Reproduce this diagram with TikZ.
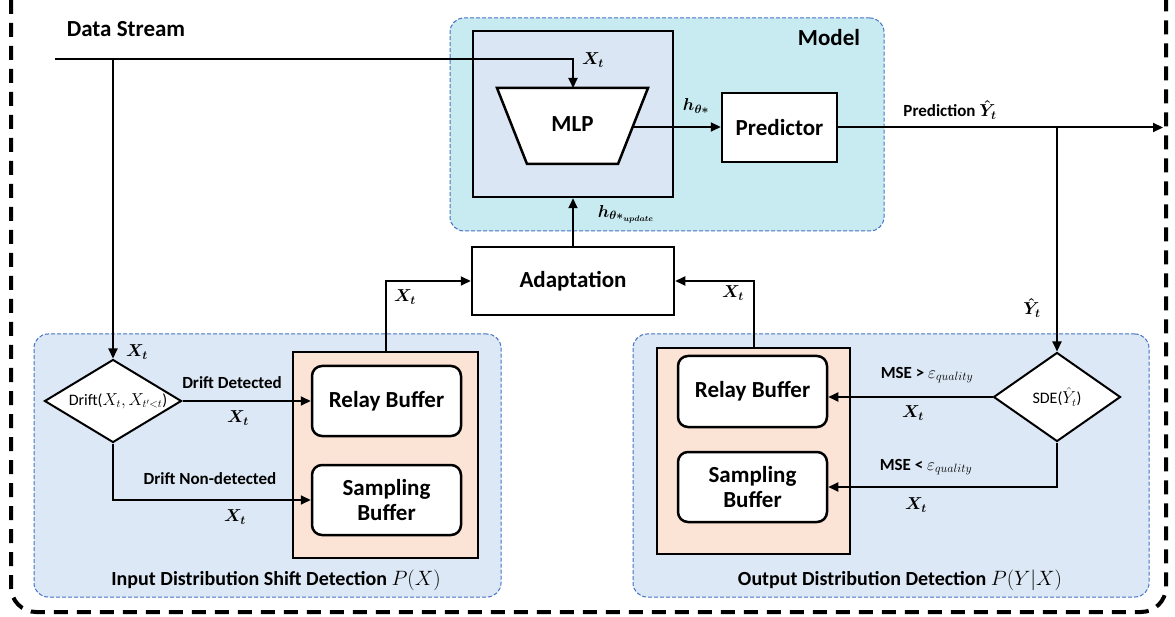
\documentclass[tikz,border=0pt]{standalone}
\usepackage{amsmath,bm}
\usepackage{fontspec}
\setmainfont{Carlito}
\usetikzlibrary{arrows.meta,calc,shapes.geometric}
\definecolor{modelcyan}{RGB}{200,235,241}
\definecolor{innerblue}{RGB}{218,230,243}
\definecolor{regionblue}{RGB}{220,232,245}
\definecolor{bufferorange}{RGB}{251,227,214}
\definecolor{dashblue}{RGB}{68,114,196}
\newcommand{\myBig}{\fontsize{23}{27}\selectfont\bfseries}
\newcommand{\myMid}{\fontsize{20}{24}\selectfont\bfseries}
\newcommand{\myMath}{\fontsize{18}{22}\selectfont\bfseries\boldmath}
\newcommand{\mySmall}{\fontsize{17}{20}\selectfont\bfseries}
\newcommand{\myDia}{\fontsize{16}{19}\selectfont}
\begin{document}
\begin{tikzpicture}[x=1pt,y=-1pt,
  wire/.style={line width=2pt},
  conn/.style={line width=2pt,-{Triangle[length=10pt,width=9pt]}},
  box/.style={draw,line width=2.5pt,fill=white,inner sep=0pt,align=center,font=\myBig},
  rbox/.style={box,rounded corners=10pt},
  region/.style={draw=dashblue,line width=1pt,dash pattern=on 4pt off 2pt,rounded corners=14pt,inner sep=0pt},
  holder/.style={draw,line width=2.5pt,inner sep=0pt},
  dia/.style={diamond,draw,line width=2pt,fill=white,inner sep=0pt},
  lab/.style={inner sep=1pt,font=\mySmall},
  mlab/.style={inner sep=1pt,font=\myMath},
  rlab/.style={inner sep=1pt,font=\myMid}
]
\useasboundingbox (0,0) rectangle (1175,617);
% outer dashed frame
\draw[line width=4pt,dash pattern=on 14pt off 9pt,rounded corners=25pt] (11,-25) rectangle (1166,612);

% model area
\node[region,fill=modelcyan,minimum width=434pt,minimum height=213pt] (model) at (667,124.5) {};
\node[font=\myBig] (modellab) at (829,38) {Model};
\node[holder,fill=innerblue,minimum width=200pt,minimum height=166pt] (inner) at (573,114) {};
\draw[line width=2.5pt,fill=white] (497,88) -- (648,88) -- (618,164) -- (527,164) -- cycle;
\node[font=\myBig] (mlp) at (572.5,124) {MLP};
\coordinate (mlpTop) at (573,88);
\coordinate (mlpR) at (633,127);
\node[box,minimum width=115pt,minimum height=69pt] (pred) at (779.5,127.5) {Predictor};

% adaptation
\node[box,minimum width=202pt,minimum height=68pt] (adapt) at (573,281) {Adaptation};

% input region
\node[region,fill=regionblue,minimum width=467pt,minimum height=263pt] (inreg) at (267.5,465.5) {};
\node[holder,fill=bufferorange,minimum width=185pt,minimum height=206pt] (orL) at (385.5,455) {};
\node[rbox,minimum width=149pt,minimum height=70pt] (relayL) at (386.5,401) {Relay Buffer};
\node[rbox,minimum width=149pt,minimum height=70pt] (sampL) at (386.5,500) {Sampling\\[-2pt]Buffer};
\node[dia,minimum width=137pt,minimum height=83pt] (diamL) at (113,401) {};
\node[font=\myDia,inner sep=0pt] (diamLt) at (118,401) {Drift($X_t,X_{t'<t}$)};
\node[rlab] (inlab) at (276,580) {Input Distribution Shift Detection $P(X)$};

% output region
\node[region,fill=regionblue,minimum width=516pt,minimum height=263pt] (outreg) at (891,465.5) {};
\node[holder,fill=bufferorange,minimum width=193pt,minimum height=206pt] (orR) at (753.5,451) {};
\node[rbox,minimum width=149pt,minimum height=71pt] (relayR) at (752.5,391.5) {Relay Buffer};
\node[rbox,minimum width=149pt,minimum height=70pt] (sampR) at (752.5,487) {Sampling\\[-2pt]Buffer};
\node[dia,minimum width=127pt,minimum height=89pt] (diamR) at (1057,397) {};
\node[font=\myDia,inner sep=0pt] (diamRt) at (1057,397) {SDE($\hat{Y}_t$)};
\node[rlab] (outlab) at (900,580) {Output Distribution Detection $P(Y|X)$};

% data stream
\node[font=\myBig] (dslab) at (126,29) {Data Stream};
\coordinate (dsStart) at (55,59);
\coordinate (dsBr) at (113,59);
\draw[conn] (dsStart) -- (mlpTop |- dsStart) -- (mlpTop);
\draw[conn] (dsBr) -- (diamL.north);
\node[mlab] (xt1) at (593,60) {$X_t$};
\node[mlab] (xt2) at (137,352) {$X_t$};

% model internals
\draw[conn] (mlpR) -- (mlpR -| pred.west);
\node[lab,font=\mySmall\boldmath] (hth) at (696,106) {$h_{\theta*}$};
\coordinate (outEnd) at (1163,127.5);
\draw[conn] (pred.east) -- (outEnd);
\node[lab,font=\mySmall\boldmath] (predlab) at (950,110) {Prediction $\hat{Y}_t$};
\coordinate (prBr) at (1057,127.5);
\draw[conn] (prBr) -- (diamR.north);
\node[mlab] (yhat) at (1032,308) {$\hat{Y}_t$};

% adaptation links
\draw[conn] (adapt.north) -- (inner.south);
\node[lab,font=\mySmall\boldmath] (hupd) at (626,214) {$h_{\theta*_{update}}$};
\draw[conn] (orL.north) -- (orL.north |- adapt.west) -- (adapt.west);
\node[mlab] (xt3) at (405,297) {$X_t$};
\draw[conn] (orR.north) -- (orR.north |- adapt.east) -- (adapt.east);
\node[mlab] (xt4) at (733,293) {$X_t$};

% left decisions
\draw[conn] (diamL.east) -- (diamL.east -| relayL.west);
\node[lab] (dd) at (232,383) {Drift Detected};
\node[mlab] (xt5) at (238,418) {$X_t$};
\draw[conn] (diamL.south) -- (diamL.south |- sampL.west) -- (sampL.west);
\node[lab] (dnd) at (210,479) {Drift Non-detected};
\node[mlab] (xt6) at (235,517) {$X_t$};

% right decisions
\draw[conn] (diamR.west) -- (diamR.west -| relayR.east);
\node[lab] (mg) at (927,375) {MSE > $\varepsilon_{quality}$};
\node[mlab] (xt7) at (913,413) {$X_t$};
\draw[conn] (diamR.south) -- (diamR.south |- sampR.east) -- (sampR.east);
\node[lab] (ml) at (926,467) {MSE < $\varepsilon_{quality}$};
\node[mlab] (xt8) at (916,505) {$X_t$};
\end{tikzpicture}
\end{document}
